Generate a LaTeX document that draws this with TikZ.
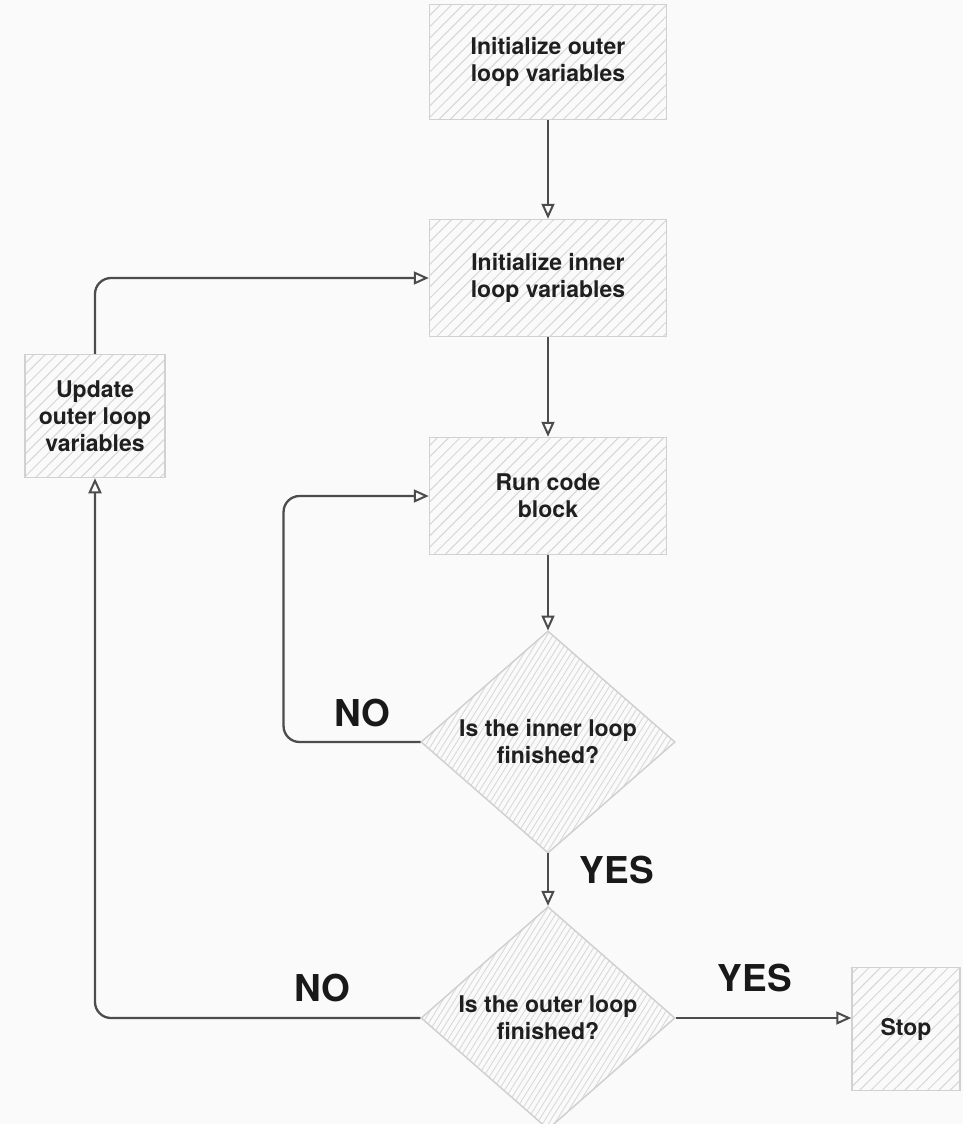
\documentclass[tikz,border=0pt]{standalone}
\usepackage{fontspec}
\setmainfont{TeX Gyre Heros}
\usepackage{tikz}
\usetikzlibrary{arrows.meta,shapes.geometric,patterns.meta}
\tikzset{
  hatch/.style={pattern={Lines[angle=45,distance=8pt,line width=1pt]}, pattern color=black!16},
  densehatch/.style={pattern={Lines[angle=58,distance=5pt,line width=0.9pt]}, pattern color=black!15},
  procbox/.style={rectangle,draw=black!18,line width=1.5pt,hatch,inner sep=0pt,
    align=center,text=black!88,font=\fontsize{23}{27}\selectfont\bfseries},
  decision/.style={diamond,draw=black!18,line width=1.5pt,densehatch,inner sep=0pt,
    minimum width=254pt,minimum height=215pt,align=center,text=black!88,
    font=\fontsize{23}{27}\selectfont\bfseries},
  edge/.style={-{Triangle[open,length=15pt,width=13pt,line width=2pt]},line width=2.3pt,draw=black!70},
  backedge/.style={edge,rounded corners=16pt},
  lbl/.style={inner sep=0pt,text=black!90,font=\fontsize{37}{40}\selectfont\bfseries}
}
\begin{document}
\begin{tikzpicture}[x=1pt,y=-1pt]
\useasboundingbox[fill=black!2] (0,0) rectangle (963,1124);
\node[procbox,minimum width=237pt,minimum height=115pt] (outerinit) at (548,62) {Initialize outer\\loop variables};
\node[procbox,minimum width=237pt,minimum height=117pt] (innerinit) at (548,278) {Initialize inner\\loop variables};
\node[procbox,minimum width=237pt,minimum height=117pt] (run) at (548,496) {Run code\\block};
\node[decision] (innerdone) at (548,742) {Is the inner loop\\finished?};
\node[decision] (outerdone) at (548,1018) {Is the outer loop\\finished?};
\node[procbox,minimum width=140pt,minimum height=123pt] (update) at (95,416) {Update\\outer loop\\variables};
\node[procbox,minimum width=108pt,minimum height=123pt] (stop) at (906,1029) {Stop};
\draw[edge] (outerinit) -- (innerinit);
\draw[edge] (innerinit) -- (run);
\draw[edge] (run) -- (innerdone);
\draw[edge] (innerdone) -- (outerdone);
\draw[edge] (outerdone.east) -- (stop.west |- outerdone.east);
% loops back
\draw[backedge] (innerdone.west) -- ++(-137,0) |- (run.west);
\draw[backedge] (outerdone.west) -| (update.south);
\draw[backedge] (update.north) |- (innerinit.west);
\node[lbl] (noinner) at (362,713) {NO};
\node[lbl] (yesinner) at (617,870) {YES};
\node[lbl] (noouter) at (322,988) {NO};
\node[lbl] (yesouter) at (755,978) {YES};
\end{tikzpicture}
\end{document}
